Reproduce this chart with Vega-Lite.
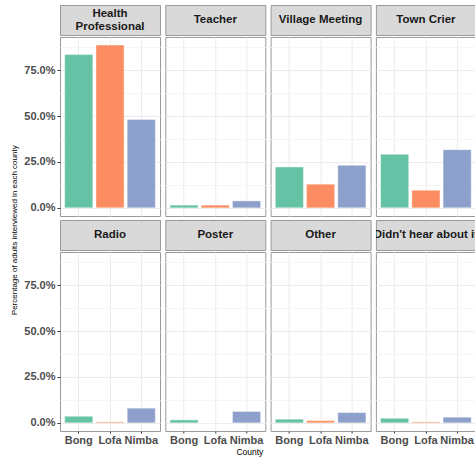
{
  "$schema": "https://vega.github.io/schema/vega-lite/v6.json",
  "padding": {"left": 11, "top": 4, "right": 0, "bottom": 2},
  "background": "white",
  "title": {"text": "Percentage of adults interviewed in each county", "orient": "left", "anchor": "middle", "fontSize": 8, "fontWeight": "normal", "color": "black", "offset": 4},
  "datasets": {
    "survey": [
      {"source": "Health Professional", "county": "Bong", "pct": 0.835},
      {"source": "Health Professional", "county": "Lofa", "pct": 0.887},
      {"source": "Health Professional", "county": "Nimba", "pct": 0.482},
      {"source": "Teacher", "county": "Bong", "pct": 0.015},
      {"source": "Teacher", "county": "Lofa", "pct": 0.015},
      {"source": "Teacher", "county": "Nimba", "pct": 0.038},
      {"source": "Village Meeting", "county": "Bong", "pct": 0.223},
      {"source": "Village Meeting", "county": "Lofa", "pct": 0.129},
      {"source": "Village Meeting", "county": "Nimba", "pct": 0.232},
      {"source": "Town Crier", "county": "Bong", "pct": 0.292},
      {"source": "Town Crier", "county": "Lofa", "pct": 0.096},
      {"source": "Town Crier", "county": "Nimba", "pct": 0.317},
      {"source": "Radio", "county": "Bong", "pct": 0.036},
      {"source": "Radio", "county": "Lofa", "pct": 0.005},
      {"source": "Radio", "county": "Nimba", "pct": 0.080},
      {"source": "Poster", "county": "Bong", "pct": 0.016},
      {"source": "Poster", "county": "Lofa", "pct": 0.0},
      {"source": "Poster", "county": "Nimba", "pct": 0.062},
      {"source": "Other", "county": "Bong", "pct": 0.020},
      {"source": "Other", "county": "Lofa", "pct": 0.012},
      {"source": "Other", "county": "Nimba", "pct": 0.056},
      {"source": "Didn't hear about it", "county": "Bong", "pct": 0.025},
      {"source": "Didn't hear about it", "county": "Lofa", "pct": 0.005},
      {"source": "Didn't hear about it", "county": "Nimba", "pct": 0.031}
    ]
  },
  "spacing": 2,
  "vconcat": [
    {
      "spacing": 3.3,
      "hconcat": [
        {"spacing": 0, "vconcat": [
          {"width": 100, "height": 30, "data": {"values": [{"label": "Health\nProfessional"}]}, "mark": {"type": "text", "fontWeight": "bold", "fontSize": 11.5, "color": "#1a1a1a", "lineBreak": "\n", "lineHeight": 12.5, "dy": -6, "clip": true}, "encoding": {"text": {"field": "label", "type": "nominal"}}, "view": {"fill": "#d9d9d9", "stroke": "#999999"}},
          {"width": 100, "height": 179, "data": {"name": "survey"}, "transform": [{"filter": "datum.source === 'Health Professional'"}], "mark": {"type": "bar", "stroke": "white", "strokeWidth": 0.4},
           "encoding": {
             "x": {"field": "county", "type": "nominal", "scale": {"domain": ["Bong", "Lofa", "Nimba"], "paddingInner": 0.1, "paddingOuter": 0.15}, "axis": {"title": null, "domain": false, "grid": true, "bandPosition": 0.5, "gridColor": "#ebebeb", "labels": false, "ticks": false}},
             "y": {"field": "pct", "type": "quantitative", "scale": {"domain": [-0.0443, 0.931], "nice": false, "zero": false}, "axis": {"title": null, "domain": false, "values": [0, 0.125, 0.25, 0.375, 0.5, 0.625, 0.75, 0.875], "labelOverlap": false, "labelExpr": "(datum.value * 4) % 1 === 0 ? format(datum.value, '.1%') : ''", "gridColor": {"condition": {"test": "(datum.value * 4) % 1 === 0", "value": "#ebebeb"}, "value": "#f5f5f5"}, "tickColor": {"condition": {"test": "(datum.value * 4) % 1 === 0", "value": "#333333"}, "value": "transparent"}, "tickSize": 3, "labelFontSize": 11, "labelFontWeight": "bold", "labelColor": "#4d4d4d", "labelPadding": 2}},
             "y2": {"datum": 0},
             "color": {"field": "county", "type": "nominal", "scale": {"domain": ["Bong", "Lofa", "Nimba"], "range": ["#66c2a5", "#fc8d62", "#8da0cb"]}, "legend": null}
           }}
        ]},
        {"spacing": 0, "vconcat": [
          {"width": 100, "height": 30, "data": {"values": [{"label": "Teacher"}]}, "mark": {"type": "text", "fontWeight": "bold", "fontSize": 11.5, "color": "#1a1a1a", "clip": true}, "encoding": {"text": {"field": "label", "type": "nominal"}}, "view": {"fill": "#d9d9d9", "stroke": "#999999"}},
          {"width": 100, "height": 179, "data": {"name": "survey"}, "transform": [{"filter": "datum.source === 'Teacher'"}], "mark": {"type": "bar", "stroke": "white", "strokeWidth": 0.4},
           "encoding": {
             "x": {"field": "county", "type": "nominal", "scale": {"domain": ["Bong", "Lofa", "Nimba"], "paddingInner": 0.1, "paddingOuter": 0.15}, "axis": {"title": null, "domain": false, "grid": true, "bandPosition": 0.5, "gridColor": "#ebebeb", "labels": false, "ticks": false}},
             "y": {"field": "pct", "type": "quantitative", "scale": {"domain": [-0.0443, 0.931], "nice": false, "zero": false}, "axis": {"title": null, "domain": false, "labels": false, "ticks": false, "values": [0, 0.125, 0.25, 0.375, 0.5, 0.625, 0.75, 0.875], "gridColor": {"condition": {"test": "(datum.value * 4) % 1 === 0", "value": "#ebebeb"}, "value": "#f5f5f5"}}},
             "y2": {"datum": 0},
             "color": {"field": "county", "type": "nominal", "scale": {"domain": ["Bong", "Lofa", "Nimba"], "range": ["#66c2a5", "#fc8d62", "#8da0cb"]}, "legend": null}
           }}
        ]},
        {"spacing": 0, "vconcat": [
          {"width": 100, "height": 30, "data": {"values": [{"label": "Village Meeting"}]}, "mark": {"type": "text", "fontWeight": "bold", "fontSize": 11.5, "color": "#1a1a1a", "clip": true}, "encoding": {"text": {"field": "label", "type": "nominal"}}, "view": {"fill": "#d9d9d9", "stroke": "#999999"}},
          {"width": 100, "height": 179, "data": {"name": "survey"}, "transform": [{"filter": "datum.source === 'Village Meeting'"}], "mark": {"type": "bar", "stroke": "white", "strokeWidth": 0.4},
           "encoding": {
             "x": {"field": "county", "type": "nominal", "scale": {"domain": ["Bong", "Lofa", "Nimba"], "paddingInner": 0.1, "paddingOuter": 0.15}, "axis": {"title": null, "domain": false, "grid": true, "bandPosition": 0.5, "gridColor": "#ebebeb", "labels": false, "ticks": false}},
             "y": {"field": "pct", "type": "quantitative", "scale": {"domain": [-0.0443, 0.931], "nice": false, "zero": false}, "axis": {"title": null, "domain": false, "labels": false, "ticks": false, "values": [0, 0.125, 0.25, 0.375, 0.5, 0.625, 0.75, 0.875], "gridColor": {"condition": {"test": "(datum.value * 4) % 1 === 0", "value": "#ebebeb"}, "value": "#f5f5f5"}}},
             "y2": {"datum": 0},
             "color": {"field": "county", "type": "nominal", "scale": {"domain": ["Bong", "Lofa", "Nimba"], "range": ["#66c2a5", "#fc8d62", "#8da0cb"]}, "legend": null}
           }}
        ]},
        {"spacing": 0, "vconcat": [
          {"width": 100, "height": 30, "data": {"values": [{"label": "Town Crier"}]}, "mark": {"type": "text", "fontWeight": "bold", "fontSize": 11.5, "color": "#1a1a1a", "clip": true}, "encoding": {"text": {"field": "label", "type": "nominal"}}, "view": {"fill": "#d9d9d9", "stroke": "#999999"}},
          {"width": 100, "height": 179, "data": {"name": "survey"}, "transform": [{"filter": "datum.source === 'Town Crier'"}], "mark": {"type": "bar", "stroke": "white", "strokeWidth": 0.4},
           "encoding": {
             "x": {"field": "county", "type": "nominal", "scale": {"domain": ["Bong", "Lofa", "Nimba"], "paddingInner": 0.1, "paddingOuter": 0.15}, "axis": {"title": null, "domain": false, "grid": true, "bandPosition": 0.5, "gridColor": "#ebebeb", "labels": false, "ticks": false}},
             "y": {"field": "pct", "type": "quantitative", "scale": {"domain": [-0.0443, 0.931], "nice": false, "zero": false}, "axis": {"title": null, "domain": false, "labels": false, "ticks": false, "values": [0, 0.125, 0.25, 0.375, 0.5, 0.625, 0.75, 0.875], "gridColor": {"condition": {"test": "(datum.value * 4) % 1 === 0", "value": "#ebebeb"}, "value": "#f5f5f5"}}},
             "y2": {"datum": 0},
             "color": {"field": "county", "type": "nominal", "scale": {"domain": ["Bong", "Lofa", "Nimba"], "range": ["#66c2a5", "#fc8d62", "#8da0cb"]}, "legend": null}
           }}
        ]}
      ]
    },
    {
      "spacing": 3.3,
      "title": {"text": "County", "orient": "bottom", "anchor": "middle", "fontSize": 8.5, "fontWeight": "normal", "color": "black", "offset": 2},
      "hconcat": [
        {"spacing": 0, "vconcat": [
          {"width": 100, "height": 30, "data": {"values": [{"label": "Radio"}]}, "mark": {"type": "text", "fontWeight": "bold", "fontSize": 11.5, "color": "#1a1a1a", "clip": true}, "encoding": {"text": {"field": "label", "type": "nominal"}}, "view": {"fill": "#d9d9d9", "stroke": "#999999"}},
          {"width": 100, "height": 179, "data": {"name": "survey"}, "transform": [{"filter": "datum.source === 'Radio'"}], "mark": {"type": "bar", "stroke": "white", "strokeWidth": 0.4},
           "encoding": {
             "x": {"field": "county", "type": "nominal", "scale": {"domain": ["Bong", "Lofa", "Nimba"], "paddingInner": 0.1, "paddingOuter": 0.15}, "axis": {"title": null, "domain": false, "grid": true, "bandPosition": 0.5, "gridColor": "#ebebeb", "tickColor": "#333333", "tickSize": 2, "labelFontSize": 11, "labelFontWeight": "bold", "labelColor": "#4d4d4d", "labelPadding": 1, "labelAngle": 0}},
             "y": {"field": "pct", "type": "quantitative", "scale": {"domain": [-0.0443, 0.931], "nice": false, "zero": false}, "axis": {"title": null, "domain": false, "values": [0, 0.125, 0.25, 0.375, 0.5, 0.625, 0.75, 0.875], "labelOverlap": false, "labelExpr": "(datum.value * 4) % 1 === 0 ? format(datum.value, '.1%') : ''", "gridColor": {"condition": {"test": "(datum.value * 4) % 1 === 0", "value": "#ebebeb"}, "value": "#f5f5f5"}, "tickColor": {"condition": {"test": "(datum.value * 4) % 1 === 0", "value": "#333333"}, "value": "transparent"}, "tickSize": 3, "labelFontSize": 11, "labelFontWeight": "bold", "labelColor": "#4d4d4d", "labelPadding": 2}},
             "y2": {"datum": 0},
             "color": {"field": "county", "type": "nominal", "scale": {"domain": ["Bong", "Lofa", "Nimba"], "range": ["#66c2a5", "#fc8d62", "#8da0cb"]}, "legend": null}
           }}
        ]},
        {"spacing": 0, "vconcat": [
          {"width": 100, "height": 30, "data": {"values": [{"label": "Poster"}]}, "mark": {"type": "text", "fontWeight": "bold", "fontSize": 11.5, "color": "#1a1a1a", "clip": true}, "encoding": {"text": {"field": "label", "type": "nominal"}}, "view": {"fill": "#d9d9d9", "stroke": "#999999"}},
          {"width": 100, "height": 179, "data": {"name": "survey"}, "transform": [{"filter": "datum.source === 'Poster'"}], "mark": {"type": "bar", "stroke": "white", "strokeWidth": 0.4},
           "encoding": {
             "x": {"field": "county", "type": "nominal", "scale": {"domain": ["Bong", "Lofa", "Nimba"], "paddingInner": 0.1, "paddingOuter": 0.15}, "axis": {"title": null, "domain": false, "grid": true, "bandPosition": 0.5, "gridColor": "#ebebeb", "tickColor": "#333333", "tickSize": 2, "labelFontSize": 11, "labelFontWeight": "bold", "labelColor": "#4d4d4d", "labelPadding": 1, "labelAngle": 0}},
             "y": {"field": "pct", "type": "quantitative", "scale": {"domain": [-0.0443, 0.931], "nice": false, "zero": false}, "axis": {"title": null, "domain": false, "labels": false, "ticks": false, "values": [0, 0.125, 0.25, 0.375, 0.5, 0.625, 0.75, 0.875], "gridColor": {"condition": {"test": "(datum.value * 4) % 1 === 0", "value": "#ebebeb"}, "value": "#f5f5f5"}}},
             "y2": {"datum": 0},
             "color": {"field": "county", "type": "nominal", "scale": {"domain": ["Bong", "Lofa", "Nimba"], "range": ["#66c2a5", "#fc8d62", "#8da0cb"]}, "legend": null}
           }}
        ]},
        {"spacing": 0, "vconcat": [
          {"width": 100, "height": 30, "data": {"values": [{"label": "Other"}]}, "mark": {"type": "text", "fontWeight": "bold", "fontSize": 11.5, "color": "#1a1a1a", "clip": true}, "encoding": {"text": {"field": "label", "type": "nominal"}}, "view": {"fill": "#d9d9d9", "stroke": "#999999"}},
          {"width": 100, "height": 179, "data": {"name": "survey"}, "transform": [{"filter": "datum.source === 'Other'"}], "mark": {"type": "bar", "stroke": "white", "strokeWidth": 0.4},
           "encoding": {
             "x": {"field": "county", "type": "nominal", "scale": {"domain": ["Bong", "Lofa", "Nimba"], "paddingInner": 0.1, "paddingOuter": 0.15}, "axis": {"title": null, "domain": false, "grid": true, "bandPosition": 0.5, "gridColor": "#ebebeb", "tickColor": "#333333", "tickSize": 2, "labelFontSize": 11, "labelFontWeight": "bold", "labelColor": "#4d4d4d", "labelPadding": 1, "labelAngle": 0}},
             "y": {"field": "pct", "type": "quantitative", "scale": {"domain": [-0.0443, 0.931], "nice": false, "zero": false}, "axis": {"title": null, "domain": false, "labels": false, "ticks": false, "values": [0, 0.125, 0.25, 0.375, 0.5, 0.625, 0.75, 0.875], "gridColor": {"condition": {"test": "(datum.value * 4) % 1 === 0", "value": "#ebebeb"}, "value": "#f5f5f5"}}},
             "y2": {"datum": 0},
             "color": {"field": "county", "type": "nominal", "scale": {"domain": ["Bong", "Lofa", "Nimba"], "range": ["#66c2a5", "#fc8d62", "#8da0cb"]}, "legend": null}
           }}
        ]},
        {"spacing": 0, "vconcat": [
          {"width": 100, "height": 30, "data": {"values": [{"label": "Didn't hear about it"}]}, "mark": {"type": "text", "fontWeight": "bold", "fontSize": 11.5, "color": "#1a1a1a", "clip": true}, "encoding": {"text": {"field": "label", "type": "nominal"}}, "view": {"fill": "#d9d9d9", "stroke": "#999999"}},
          {"width": 100, "height": 179, "data": {"name": "survey"}, "transform": [{"filter": "datum.source === \"Didn't hear about it\""}], "mark": {"type": "bar", "stroke": "white", "strokeWidth": 0.4},
           "encoding": {
             "x": {"field": "county", "type": "nominal", "scale": {"domain": ["Bong", "Lofa", "Nimba"], "paddingInner": 0.1, "paddingOuter": 0.15}, "axis": {"title": null, "domain": false, "grid": true, "bandPosition": 0.5, "gridColor": "#ebebeb", "tickColor": "#333333", "tickSize": 2, "labelFontSize": 11, "labelFontWeight": "bold", "labelColor": "#4d4d4d", "labelPadding": 1, "labelAngle": 0}},
             "y": {"field": "pct", "type": "quantitative", "scale": {"domain": [-0.0443, 0.931], "nice": false, "zero": false}, "axis": {"title": null, "domain": false, "labels": false, "ticks": false, "values": [0, 0.125, 0.25, 0.375, 0.5, 0.625, 0.75, 0.875], "gridColor": {"condition": {"test": "(datum.value * 4) % 1 === 0", "value": "#ebebeb"}, "value": "#f5f5f5"}}},
             "y2": {"datum": 0},
             "color": {"field": "county", "type": "nominal", "scale": {"domain": ["Bong", "Lofa", "Nimba"], "range": ["#66c2a5", "#fc8d62", "#8da0cb"]}, "legend": null}
           }}
        ]}
      ]
    }
  ],
  "config": {
    "font": "Liberation Sans",
    "view": {"stroke": "#999999"},
    "axis": {"gridWidth": 1}
  }
}
